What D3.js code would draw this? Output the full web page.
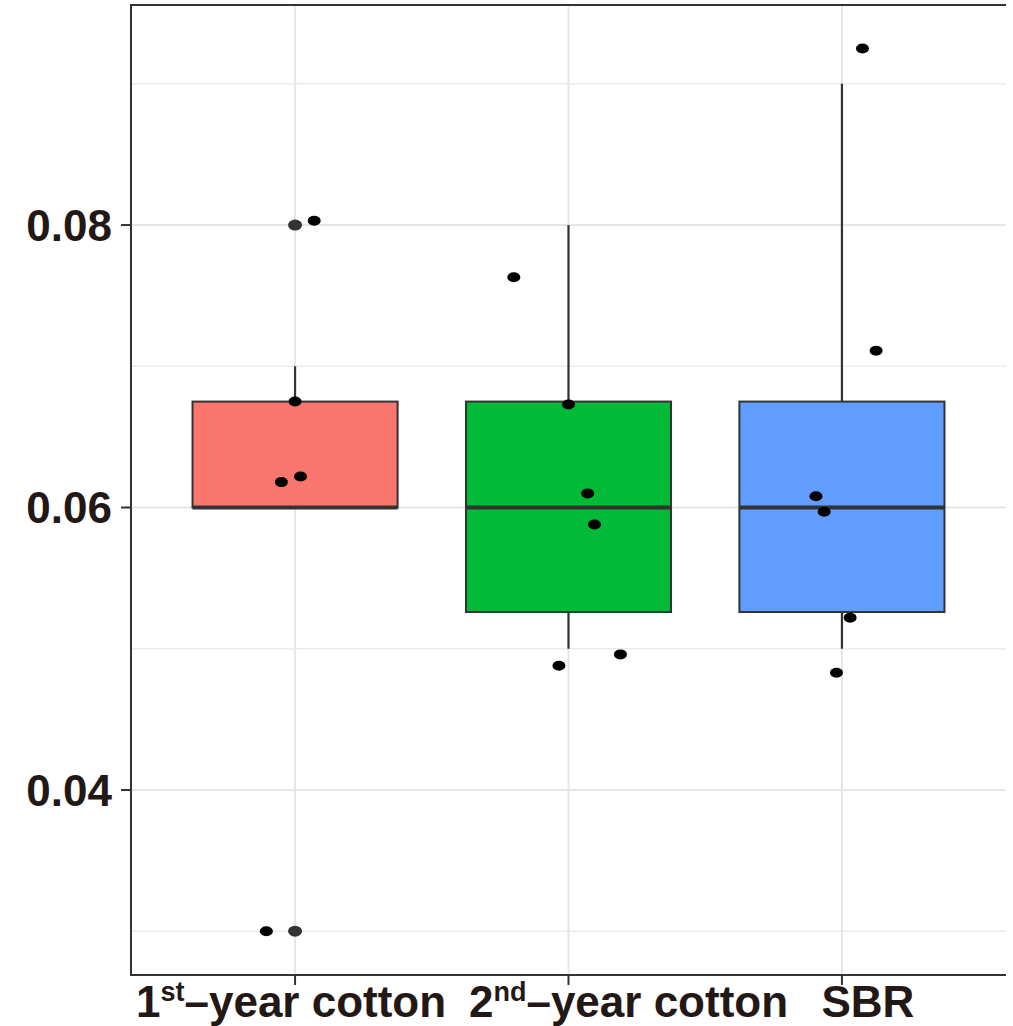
<!DOCTYPE html>
<html>
<head>
<meta charset="utf-8">
<script src="https://cdn.jsdelivr.net/npm/d3@7"></script>
<style>
  body { margin: 0; background: #fff; }
  text { font-family: "Liberation Sans", Arial, sans-serif; font-weight: bold; fill: #231815; }
</style>
</head>
<body>
<script>
// groups and box stats
var groups = ["1st", "2nd", "SBR"];
var groupMain = ["1", "2", "SBR"];
var groupSup = ["st", "nd", ""];
var groupTail = ["\u2013year cotton", "\u2013year cotton", ""];
var fills = ["#f8766d", "#00ba38", "#619cff"];
var q1 = [0.060, 0.0526, 0.0526];
var med = [0.060, 0.060, 0.060];
var q3 = [0.0675, 0.0675, 0.0675];
var whiskLo = [0.060, 0.050, 0.050];
var whiskHi = [0.070, 0.080, 0.090];
// outliers drawn by the boxplot (grey)
var outGroup = [0, 0];
var outVal = [0.080, 0.030];
// jittered raw points: group index, x offset (category units), value
var ptGroup = [0, 0, 0, 0, 0, 1, 1, 1, 1, 1, 1, 2, 2, 2, 2, 2, 2];
var ptJit = [0.07, 0.0, -0.05, 0.02, -0.105, -0.2, 0.0, 0.07, 0.095, -0.035, 0.19, 0.075, 0.125, -0.095, -0.065, 0.03, -0.02];
var ptVal = [0.0803, 0.0675, 0.0618, 0.0622, 0.030, 0.0763, 0.0673, 0.0610, 0.0588, 0.0488, 0.0496, 0.0925, 0.0711, 0.0608, 0.0597, 0.0522, 0.0483];
var yTicks = [0.04, 0.06, 0.08];
var yMinor = [0.03, 0.05, 0.07, 0.09];

var W = 1013, H = 1026;
var mLeft = 131, mRight = 1006, mTop = 5, mBottom = 975;
var labelShift = [-4, 60, 26];

var svg = d3.select("body").append("svg").attr("width", W).attr("height", H);

var x = d3.scaleLinear().domain([0.4, 3.6]).range([mLeft, mRight]);
var y = d3.scaleLinear().domain([0.0269, 0.09558]).range([mBottom, mTop]);

// grid
svg.selectAll(".gminor").data(yMinor).enter().append("line")
  .attr("x1", mLeft).attr("x2", mRight)
  .attr("y1", function(d) { return y(d); }).attr("y2", function(d) { return y(d); })
  .attr("stroke", "#ebebeb").attr("stroke-width", 1.5);
svg.selectAll(".gmajor").data(yTicks).enter().append("line")
  .attr("x1", mLeft).attr("x2", mRight)
  .attr("y1", function(d) { return y(d); }).attr("y2", function(d) { return y(d); })
  .attr("stroke", "#e6e6e6").attr("stroke-width", 2);
svg.selectAll(".gx").data(groups).enter().append("line")
  .attr("x1", function(d, i) { return x(i + 1); }).attr("x2", function(d, i) { return x(i + 1); })
  .attr("y1", mTop).attr("y2", mBottom)
  .attr("stroke", "#e6e6e6").attr("stroke-width", 2);

var bw = 0.75;
groups.forEach(function(g, i) {
  var cx = x(i + 1);
  // whiskers
  svg.append("line").attr("x1", cx).attr("x2", cx)
    .attr("y1", y(q3[i])).attr("y2", y(whiskHi[i]))
    .attr("stroke", "#333").attr("stroke-width", 2.2);
  svg.append("line").attr("x1", cx).attr("x2", cx)
    .attr("y1", y(q1[i])).attr("y2", y(whiskLo[i]))
    .attr("stroke", "#333").attr("stroke-width", 2.2);
  // box
  svg.append("rect")
    .attr("x", x(i + 1 - bw / 2)).attr("width", x(i + 1 + bw / 2) - x(i + 1 - bw / 2))
    .attr("y", y(q3[i])).attr("height", y(q1[i]) - y(q3[i]))
    .attr("fill", fills[i]).attr("stroke", "#333").attr("stroke-width", 2);
  // median
  svg.append("line")
    .attr("x1", x(i + 1 - bw / 2)).attr("x2", x(i + 1 + bw / 2))
    .attr("y1", y(med[i])).attr("y2", y(med[i]))
    .attr("stroke", "#333").attr("stroke-width", 4);
});

// outliers
svg.selectAll(".out").data(outVal).enter().append("ellipse")
  .attr("cx", function(d, i) { return x(outGroup[i] + 1); })
  .attr("cy", function(d) { return y(d); })
  .attr("rx", 7).attr("ry", 5.5).attr("fill", "#333");

// jittered points
svg.selectAll(".pt").data(ptVal).enter().append("ellipse")
  .attr("cx", function(d, i) { return x(ptGroup[i] + 1 + ptJit[i]); })
  .attr("cy", function(d) { return y(d); })
  .attr("rx", 6.5).attr("ry", 5).attr("fill", "#000");

// axes lines
svg.append("line").attr("x1", mLeft).attr("x2", mLeft).attr("y1", mTop).attr("y2", mBottom)
  .attr("stroke", "#333").attr("stroke-width", 2);
svg.append("line").attr("x1", mLeft - 1).attr("x2", mRight).attr("y1", mTop).attr("y2", mTop)
  .attr("stroke", "#333").attr("stroke-width", 2);
svg.append("line").attr("x1", mLeft - 1).attr("x2", mRight).attr("y1", mBottom).attr("y2", mBottom)
  .attr("stroke", "#333").attr("stroke-width", 2);

// y ticks
svg.selectAll(".yt").data(yTicks).enter().append("line")
  .attr("x1", mLeft - 10).attr("x2", mLeft)
  .attr("y1", function(d) { return y(d); }).attr("y2", function(d) { return y(d); })
  .attr("stroke", "#333").attr("stroke-width", 2);
svg.selectAll(".yl").data(yTicks).enter().append("text")
  .attr("x", mLeft - 19).attr("y", function(d) { return y(d); })
  .attr("dy", "0.36em").attr("text-anchor", "end")
  .style("font-size", "44px")
  .text(function(d) { return d3.format(".2f")(d); });

// x ticks
svg.selectAll(".xt").data(groups).enter().append("line")
  .attr("x1", function(d, i) { return x(i + 1); }).attr("x2", function(d, i) { return x(i + 1); })
  .attr("y1", mBottom).attr("y2", mBottom + 10)
  .attr("stroke", "#333").attr("stroke-width", 2);
var xl = svg.selectAll(".xl").data(groups).enter().append("text")
  .attr("x", function(d, i) { return x(i + 1) + labelShift[i]; }).attr("y", 1017)
  .attr("text-anchor", "middle")
  .style("font-size", "44px");
xl.append("tspan").text(function(d, i) { return groupMain[i]; });
xl.append("tspan").attr("dy", -16).style("font-size", "27px")
  .text(function(d, i) { return groupSup[i]; });
xl.append("tspan").attr("dy", 16)
  .text(function(d, i) { return groupTail[i]; });
</script>
</body>
</html>
